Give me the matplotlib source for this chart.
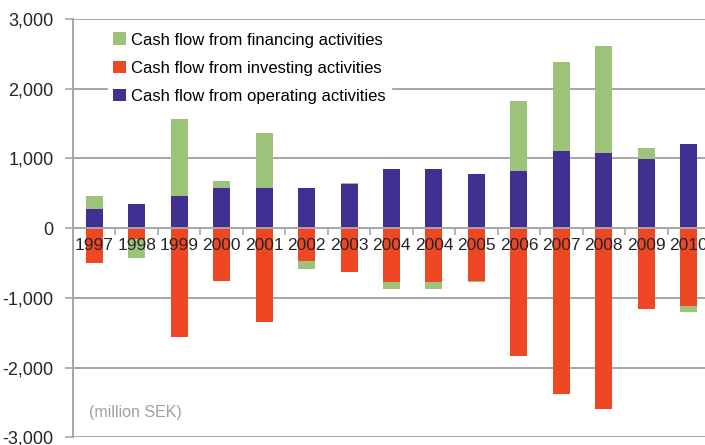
import numpy as np
import matplotlib
matplotlib.use("Agg")
import matplotlib.pyplot as plt

plt.rcParams['font.family'] = ['Liberation Sans Narrow', 'Liberation Sans', 'DejaVu Sans']

years = ['1997', '1998', '1999', '2000', '2001', '2002', '2003', '2004',
         '2004', '2005', '2006', '2007', '2008', '2009', '2010']
operating = [272, 348, 463, 582, 582, 582, 630, 845, 845, 774, 821, 1107, 1079, 988, 1203]
investing = [-493, -150, -1567, -755, -1352, -478, -636, -779, -779, -755, -1830, -2378, -2593, -1160, -1113]
financing = [190, -280, 1103, 96, 788, -110, 23, -95, -95, -24, 1003, 1271, 1533, 167, -96]

c_fin = '#9dc37a'
c_inv = '#ee4723'
c_op = '#413092'
grid_c = '#a6a6a6'

fig = plt.figure(figsize=(7.05, 4.45), dpi=100)
ax = fig.add_axes([73/705, 7.7/445, 637/705, 418.3/445])

x = np.arange(len(years))
op = np.array(operating)
inv = np.array(investing)
fin = np.array(financing)
fin_bottom = np.where(fin > 0, op, inv)

w = 0.4
ax.bar(x, op, w, color=c_op, zorder=2, label='Cash flow from operating activities')
ax.bar(x, inv, w, color=c_inv, zorder=2, label='Cash flow from investing activities')
ax.bar(x, fin, w, bottom=fin_bottom, color=c_fin, zorder=2,
       label='Cash flow from financing activities')

ax.set_xlim(-0.5, len(years) - 0.5)
ax.set_ylim(-3000, 3000)
ax.set_yticks(range(-3000, 3001, 1000))
ax.set_yticklabels([f'{v:,}' for v in range(-3000, 3001, 1000)])
for v in range(-3000, 3001, 1000):
    if v != 0:
        ax.axhline(v, color=grid_c, lw=1.4, zorder=0)

for s in ['top', 'right']:
    ax.spines[s].set_visible(False)
ax.spines['left'].set_color(grid_c)
ax.spines['left'].set_linewidth(1.4)
ax.spines['bottom'].set_position(('data', 0))
ax.spines['bottom'].set_color(grid_c)
ax.spines['bottom'].set_linewidth(1.4)
ax.spines['bottom'].set_zorder(3)

ax.set_xticks(np.arange(-0.5, len(years), 1))
ax.set_xticklabels([])
ax.tick_params(axis='x', direction='out', length=5, width=1.2, color=grid_c)
ax.tick_params(axis='y', direction='out', length=6, width=1.2, color=grid_c,
               labelsize=13, labelcolor='#262626', pad=8)

for i, y in enumerate(years):
    ax.annotate(y, (i, 0), xytext=(0, -7), textcoords='offset points',
                ha='center', va='top', fontsize=12.5, color='#262626', zorder=5)

ax.text(0.025, 0.06, '(million SEK)', transform=ax.transAxes, fontsize=11.5,
        color='#a0a0a0', ha='left', va='center')

h, l = ax.get_legend_handles_labels()
leg = ax.legend(h[::-1], l[::-1], loc='upper left', bbox_to_anchor=(0.055, 0.98),
                fontsize=12, frameon=True, facecolor='white', edgecolor='white',
                framealpha=1, handlelength=0.8, handleheight=0.8, handletextpad=0.3,
                labelspacing=0.78, borderpad=0.3, borderaxespad=0)
leg.set_zorder(4)

fig.savefig('out.png', dpi=100)
